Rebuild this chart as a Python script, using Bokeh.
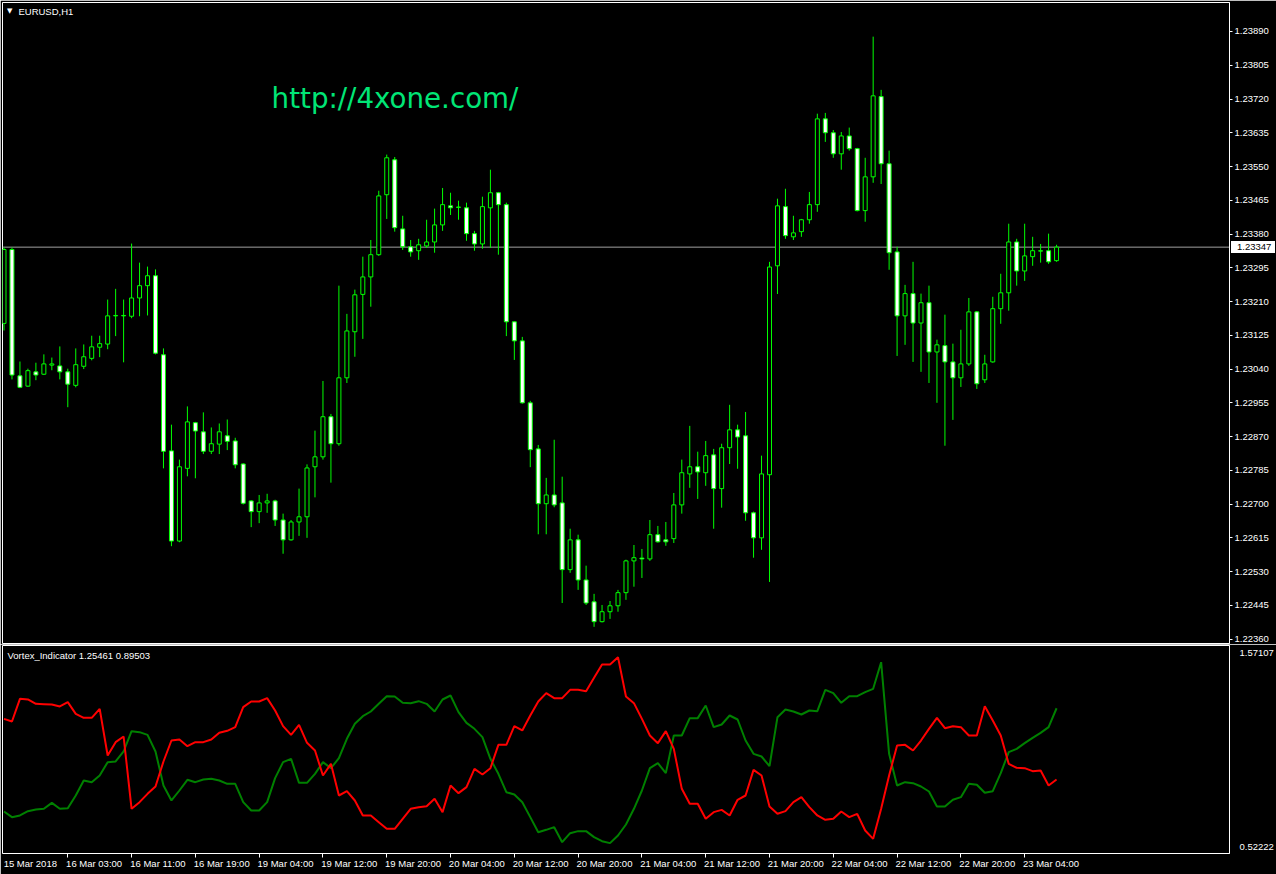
from bokeh.plotting import figure
from bokeh.models import (Range1d, FixedTicker, Span, Label, PrintfTickFormatter,
                          CustomJSTickFormatter, ColumnDataSource, Div)
from bokeh.layouts import column
from bokeh.embed import file_html
from bokeh.resources import INLINE

# ---------------- data (EURUSD H1) ----------------
opens = [1.23155, 1.23341, 1.23023, 1.22997, 1.23033, 1.23027, 1.23050, 1.23048, 1.23033, 1.22999,
         1.23047, 1.23067, 1.23095, 1.23103, 1.23174, 1.23175, 1.23173, 1.23219, 1.23250, 1.23275,
         1.23076, 1.22834, 1.22607, 1.22790, 1.22905, 1.22882, 1.22833, 1.22851, 1.22872, 1.22859,
         1.22801, 1.22708, 1.22681, 1.22703, 1.22708, 1.22660, 1.22610, 1.22655, 1.22668, 1.22794,
         1.22819, 1.22920, 1.22852, 1.23018, 1.23134, 1.23228, 1.23272, 1.23328, 1.23479, 1.23567,
         1.23393, 1.23348, 1.23338, 1.23350, 1.23360, 1.23403, 1.23451, 1.23447, 1.23446, 1.23381,
         1.23355, 1.23446, 1.23484, 1.23454, 1.23159, 1.23111, 1.22955, 1.22839, 1.22701, 1.22723,
         1.22703, 1.22535, 1.22610, 1.22509, 1.22454, 1.22404, 1.22429, 1.22444, 1.22477, 1.22557,
         1.22564, 1.22562, 1.22623, 1.22610, 1.22613, 1.22698, 1.22776, 1.22794, 1.22779, 1.22824,
         1.22739, 1.22842, 1.22887, 1.22872, 1.22678, 1.22615, 1.22774, 1.23300, 1.23449, 1.23373,
         1.23386, 1.23416, 1.23454, 1.23670, 1.23635, 1.23582, 1.23627, 1.23595, 1.23439, 1.23524,
         1.23726, 1.23557, 1.23335, 1.23174, 1.23230, 1.23156, 1.23207, 1.23083, 1.23099, 1.23058,
         1.23018, 1.23053, 1.23184, 1.23013, 1.23058, 1.23192, 1.23232, 1.23360, 1.23287, 1.23323,
         1.23337, 1.23338, 1.23313]
highs = [1.23346, 1.23346, 1.23059, 1.23041, 1.23056, 1.23077, 1.23069, 1.23097, 1.23041, 1.23092,
         1.23102, 1.23124, 1.23124, 1.23215, 1.23242, 1.23215, 1.23356, 1.23308, 1.23298, 1.23291,
         1.23092, 1.22900, 1.22812, 1.22946, 1.22907, 1.22931, 1.22893, 1.22903, 1.22913, 1.22867,
         1.22803, 1.22710, 1.22723, 1.22726, 1.22711, 1.22676, 1.22660, 1.22739, 1.22800, 1.22885,
         1.23010, 1.22927, 1.23250, 1.23179, 1.23240, 1.23323, 1.23365, 1.23489, 1.23580, 1.23574,
         1.23426, 1.23365, 1.23368, 1.23416, 1.23444, 1.23496, 1.23484, 1.23464, 1.23459, 1.23388,
         1.23474, 1.23542, 1.23486, 1.23459, 1.23160, 1.23121, 1.22960, 1.22849, 1.22766, 1.22862,
         1.22769, 1.22638, 1.22623, 1.22545, 1.22474, 1.22446, 1.22456, 1.22484, 1.22560, 1.22597,
         1.22587, 1.22660, 1.22645, 1.22655, 1.22728, 1.22812, 1.22897, 1.22832, 1.22859, 1.22839,
         1.22852, 1.22950, 1.22900, 1.22932, 1.22681, 1.22822, 1.23310, 1.23469, 1.23494, 1.23426,
         1.23418, 1.23486, 1.23683, 1.23685, 1.23642, 1.23637, 1.23648, 1.23597, 1.23572, 1.23877,
         1.23743, 1.23590, 1.23348, 1.23252, 1.23310, 1.23230, 1.23250, 1.23114, 1.23177, 1.23104,
         1.23139, 1.23219, 1.23186, 1.23076, 1.23222, 1.23280, 1.23406, 1.23368, 1.23406, 1.23373,
         1.23355, 1.23381, 1.23353]
lows = [1.23137, 1.23014, 1.22992, 1.22995, 1.23012, 1.23025, 1.23037, 1.23014, 1.22944, 1.22994,
        1.23040, 1.23062, 1.23070, 1.23090, 1.23123, 1.23057, 1.23168, 1.23173, 1.23175, 1.23077,
        1.22790, 1.22594, 1.22604, 1.22770, 1.22765, 1.22826, 1.22826, 1.22826, 1.22836, 1.22790,
        1.22699, 1.22642, 1.22652, 1.22678, 1.22645, 1.22575, 1.22608, 1.22620, 1.22615, 1.22717,
        1.22812, 1.22754, 1.22847, 1.23005, 1.23071, 1.23116, 1.23197, 1.23325, 1.23418, 1.23386,
        1.23340, 1.23323, 1.23315, 1.23345, 1.23333, 1.23388, 1.23428, 1.23416, 1.23363, 1.23338,
        1.23343, 1.23345, 1.23328, 1.23123, 1.23063, 1.22953, 1.22793, 1.22624, 1.22624, 1.22692,
        1.22451, 1.22527, 1.22484, 1.22446, 1.22391, 1.22402, 1.22411, 1.22429, 1.22459, 1.22492,
        1.22514, 1.22557, 1.22603, 1.22595, 1.22602, 1.22676, 1.22741, 1.22713, 1.22746, 1.22638,
        1.22691, 1.22801, 1.22789, 1.22658, 1.22565, 1.22585, 1.22504, 1.23229, 1.23368, 1.23365,
        1.23373, 1.23406, 1.23436, 1.23612, 1.23572, 1.23542, 1.23590, 1.23437, 1.23411, 1.23509,
        1.23506, 1.23290, 1.23073, 1.23101, 1.23058, 1.23033, 1.23005, 1.22955, 1.22847, 1.22912,
        1.22995, 1.23048, 1.22990, 1.23005, 1.23056, 1.23154, 1.23187, 1.23250, 1.23262, 1.23300,
        1.23308, 1.23305, 1.23310]
closes = [1.23341, 1.23025, 1.22994, 1.23036, 1.23025, 1.23053, 1.23053, 1.23033, 1.23002, 1.23051,
          1.23071, 1.23096, 1.23104, 1.23174, 1.23175, 1.23174, 1.23219, 1.23250, 1.23275, 1.23080,
          1.22833, 1.22607, 1.22794, 1.22907, 1.22884, 1.22833, 1.22852, 1.22882, 1.22858, 1.22799,
          1.22702, 1.22681, 1.22703, 1.22708, 1.22660, 1.22610, 1.22655, 1.22668, 1.22791, 1.22819,
          1.22920, 1.22852, 1.23018, 1.23136, 1.23227, 1.23272, 1.23328, 1.23476, 1.23572, 1.23396,
          1.23348, 1.23335, 1.23353, 1.23360, 1.23403, 1.23454, 1.23446, 1.23448, 1.23381, 1.23355,
          1.23449, 1.23484, 1.23454, 1.23159, 1.23111, 1.22955, 1.22837, 1.22701, 1.22723, 1.22698,
          1.22535, 1.22610, 1.22509, 1.22451, 1.22404, 1.22429, 1.22444, 1.22477, 1.22557, 1.22565,
          1.22562, 1.22623, 1.22605, 1.22605, 1.22698, 1.22779, 1.22794, 1.22781, 1.22822, 1.22739,
          1.22842, 1.22887, 1.22869, 1.22678, 1.22615, 1.22776, 1.23297, 1.23451, 1.23376, 1.23383,
          1.23416, 1.23454, 1.23670, 1.23635, 1.23582, 1.23627, 1.23595, 1.23439, 1.23524, 1.23728,
          1.23557, 1.23333, 1.23174, 1.23230, 1.23156, 1.23207, 1.23083, 1.23101, 1.23058, 1.23018,
          1.23053, 1.23184, 1.23003, 1.23053, 1.23192, 1.23232, 1.23360, 1.23287, 1.23325, 1.23338,
          1.23338, 1.23310, 1.23347]

# Vortex indicator: VI+ (green) and VI- (red)
vi_plus = [0.7340, 0.7055, 0.7139, 0.7357, 0.7441, 0.7475, 0.7777, 0.7475, 0.7508, 0.8147,
           0.8904, 0.8819, 0.9156, 0.9828, 0.9862, 1.0366, 1.1391, 1.1341, 1.1206, 1.0366,
           0.8651, 0.7895, 0.8399, 0.8937, 0.8819, 0.8954, 0.8988, 0.8904, 0.8735, 0.8735,
           0.7811, 0.7391, 0.7391, 0.7811, 0.9021, 0.9828, 0.9996, 0.8786, 0.8786, 0.9240,
           0.9828, 0.9525, 1.0030, 1.1005, 1.1761, 1.2147, 1.2383, 1.2769, 1.3156, 1.3139,
           1.2820, 1.2803, 1.2904, 1.2769, 1.2383, 1.2988, 1.3190, 1.2349, 1.1811, 1.1509,
           1.1089, 0.9996, 0.9240, 0.8315, 0.8198, 0.7811, 0.7055, 0.6298, 0.6416, 0.6550,
           0.5794, 0.6248, 0.6349, 0.6349, 0.6046, 0.5844, 0.5744, 0.6130, 0.6685, 0.7475,
           0.8399, 0.9525, 0.9778, 0.9273, 1.1173, 1.1173, 1.2047, 1.2047, 1.2685, 1.1593,
           1.1727, 1.2181, 1.1979, 1.0920, 1.0248, 1.0114, 0.9626, 1.2097, 1.2484, 1.2383,
           1.2231, 1.2433, 1.2399, 1.3475, 1.3307, 1.2820, 1.3156, 1.3156, 1.3358, 1.3526,
           1.4870, 1.0248, 0.8651, 0.8819, 0.8769, 0.8601, 0.8349, 0.7592, 0.7592, 0.7929,
           0.8063, 0.8735, 0.8685, 0.8282, 0.8366, 0.9273, 1.0332, 1.0500, 1.0786, 1.1055,
           1.1307, 1.1593, 1.25461]
vi_minus = [1.2013, 1.1878, 1.3021, 1.2988, 1.2769, 1.2753, 1.2736, 1.2635, 1.2853, 1.2265,
            1.2063, 1.2063, 1.2517, 1.0164, 1.0836, 1.1122, 0.7475, 0.7811, 0.8231, 0.8601,
            0.9862, 1.0920, 1.0971, 1.0635, 1.0836, 1.0836, 1.0971, 1.1307, 1.1408, 1.1593,
            1.2601, 1.2887, 1.2887, 1.3055, 1.2433, 1.1643, 1.1206, 1.1710, 1.0803, 1.0416,
            0.9156, 0.9744, 0.8147, 0.8366, 0.7895, 0.7139, 0.7139, 0.6803, 0.6466, 0.6466,
            0.6971, 0.7475, 0.7559, 0.7609, 0.7979, 0.7307, 0.8651, 0.8265, 0.8567, 0.9492,
            0.9206, 0.9525, 1.0702, 1.0702, 1.1643, 1.1425, 1.2181, 1.2887, 1.3307, 1.3055,
            1.3055, 1.3475, 1.3475, 1.3408, 1.4080, 1.4753, 1.4753, 1.5122, 1.3139, 1.2803,
            1.2013, 1.1173, 1.0786, 1.1391, 1.0500, 0.8483, 0.7727, 0.7727, 0.6971, 0.7307,
            0.7424, 0.7139, 0.7929, 0.8147, 0.9441, 0.9156, 0.7592, 0.7223, 0.7357, 0.7811,
            0.8063, 0.7559, 0.7139, 0.6920, 0.6971, 0.7340, 0.7055, 0.7223, 0.6382, 0.5962,
            0.7475, 0.9156, 1.0668, 1.0702, 1.0416, 1.0920, 1.1509, 1.2063, 1.1542, 1.1643,
            1.1593, 1.1173, 1.1173, 1.2652, 1.1929, 1.1173, 0.9744, 0.9542, 0.9525, 0.9374,
            0.9408, 0.8651, 0.89503]

price_ticks = [1.22360, 1.22445, 1.22530, 1.22615, 1.22700, 1.22785, 1.22870, 1.22955, 1.23040,
               1.23125, 1.23210, 1.23295, 1.23380, 1.23465, 1.23550, 1.23635, 1.23720, 1.23805,
               1.23890]
time_ticks = [0, 8, 16, 24, 32, 40, 48, 56, 64, 72, 80, 88, 96, 104, 112, 120, 128]
time_labels = ["15 Mar 2018", "16 Mar 03:00", "16 Mar 11:00", "16 Mar 19:00", "19 Mar 04:00",
               "19 Mar 12:00", "19 Mar 20:00", "20 Mar 04:00", "20 Mar 12:00", "20 Mar 20:00",
               "21 Mar 04:00", "21 Mar 12:00", "21 Mar 20:00", "22 Mar 04:00", "22 Mar 12:00",
               "22 Mar 20:00", "23 Mar 04:00"]
last_price = 1.23347
ind_max, ind_min = 1.57107, 0.52222
symbol_title = "EURUSD,H1"
ind_title = "Vortex_Indicator 1.25461 0.89503"
watermark = "http://4xone.com/"

# ---------------- layout constants (pixels) ----------------
W = 1276
FL, FR = 2, 1233          # frame left / right
BAR_PX, BAR0 = 8.0, 3.5   # bar spacing, centre of first bar
H1, H2 = 644, 230
P1_TOP, P1_BOT = 2, 643
P2_TOP, P2_BOT = 645, 853
PRICE_TOP, PRICE_BOT = 1.23963, 1.22349
LABEL_SHIFT = 3.3         # time labels start at their tick (in bars, half a label)

FONT = "Liberation Sans"
FS = "9.5px"
GREEN = "#00FF00"

def px_x(px):
    return (px - BAR0) / BAR_PX

def px_price(py):
    return PRICE_TOP - (py - P1_TOP) * (PRICE_TOP - PRICE_BOT) / (P1_BOT - P1_TOP)

def price_px(p):
    return P1_TOP + (PRICE_TOP - p) * (P1_BOT - P1_TOP) / (PRICE_TOP - PRICE_BOT)

def px_ind(py):
    return ind_max - (py - P2_TOP) * (ind_max - ind_min) / (P2_BOT - P2_TOP)

idx = list(range(len(opens)))
xr = Range1d(px_x(FL), px_x(FR))

# ---------------- main price chart ----------------
p1 = figure(width=W, height=H1, x_range=xr, y_range=Range1d(PRICE_BOT, PRICE_TOP),
            x_axis_location=None, y_axis_location="right",
            output_backend="svg", toolbar_location=None,
            background_fill_color="black", border_fill_color="black",
            min_border_left=FL, min_border_right=W - FR,
            min_border_top=P1_TOP, min_border_bottom=H1 - P1_BOT)
p1.grid.visible = False
p1.outline_line_color = "white"
p1.outline_line_width = 1

tops = [max(o, c) for o, c in zip(opens, closes)]
bots = [min(o, c) for o, c in zip(opens, closes)]
fills = ["white" if c < o else "black" for o, c in zip(opens, closes)]
src = ColumnDataSource(dict(x=idx, o=opens, h=highs, l=lows, c=closes,
                            top=tops, bot=bots, fill=fills))

p1.add_layout(Span(location=last_price, dimension="width", line_color="#A0A0A0",
                   line_width=1, level="underlay"))
p1.segment(x0="x", y0="l", x1="x", y1="h", source=src, line_color=GREEN, line_width=1)
p1.vbar(x="x", width=0.5, top="top", bottom="bot", source=src,
        fill_color="fill", line_color=GREEN, line_width=1)

ya = p1.yaxis[0]
ya.ticker = FixedTicker(ticks=price_ticks)
ya.formatter = PrintfTickFormatter(format="%.5f")
ya.axis_line_color = "white"
ya.major_tick_line_color = "white"
ya.major_tick_out = 3
ya.major_tick_in = 0
ya.minor_tick_line_color = None
ya.major_label_text_color = "white"
ya.major_label_text_font = FONT
ya.major_label_text_font_size = FS
ya.major_label_standoff = 2

p1.add_layout(Label(x=px_x(6.5), y=px_price(10.5), text="\u25BC", text_color="white",
                    text_font="DejaVu Sans", text_font_size="7px", text_baseline="middle"))
p1.add_layout(Label(x=px_x(18), y=px_price(10.5), text=symbol_title, text_color="white",
                    text_font=FONT, text_font_size=FS, text_baseline="middle"))
p1.add_layout(Label(x=px_x(272), y=px_price(98), text=watermark, text_color="#00E676",
                    text_font="DejaVu Sans", text_font_size="27.7px", text_baseline="middle"))

# ---------------- Vortex indicator ----------------
p2 = figure(width=W, height=H2, x_range=xr, y_range=Range1d(ind_min, ind_max),
            x_axis_location="below", y_axis_location="right",
            output_backend="svg", toolbar_location=None,
            background_fill_color="black", border_fill_color="black",
            min_border_left=FL, min_border_right=W - FR,
            min_border_top=P2_TOP - H1, min_border_bottom=H1 + H2 - P2_BOT)
p2.grid.visible = False
p2.outline_line_color = "white"
p2.outline_line_width = 1

p2.line(idx, vi_plus, line_color="#008000", line_width=2)
p2.line(idx, vi_minus, line_color="#FF0000", line_width=2)

ya2 = p2.yaxis[0]
ya2.ticker = FixedTicker(ticks=[px_ind(P2_BOT - 6.3), px_ind(P2_TOP + 7.7)])
ya2.formatter = CustomJSTickFormatter(args=dict(labels=["%.5f" % ind_min, "%.5f" % ind_max]),
                                      code="return labels[index];")
ya2.axis_line_color = "white"
ya2.major_tick_line_color = None
ya2.minor_tick_line_color = None
ya2.major_label_text_color = "white"
ya2.major_label_text_font = FONT
ya2.major_label_text_font_size = FS
ya2.major_label_standoff = 4

# time scale: labels start at the bar they name; small tick marks at those bars
xa = p2.xaxis[0]
xa.ticker = FixedTicker(ticks=[t + LABEL_SHIFT for t in time_ticks], minor_ticks=time_ticks[1:])
xa.formatter = CustomJSTickFormatter(args=dict(labels=time_labels), code="return labels[index];")
xa.axis_line_color = None
xa.major_tick_line_color = None
xa.major_tick_out = 4
xa.major_tick_in = 0
xa.minor_tick_line_color = "white"
xa.minor_tick_out = 4
xa.minor_tick_in = 0
xa.major_label_text_color = "white"
xa.major_label_text_font = FONT
xa.major_label_text_font_size = FS
xa.major_label_standoff = 0

p2.add_layout(Label(x=px_x(7), y=px_ind(655), text=ind_title, text_color="white",
                    text_font=FONT, text_font_size=FS, text_baseline="middle"))

layout = column(p1, p2, spacing=0,
                styles={"position": "absolute", "left": "0px", "top": "0px"})

# current bid price box sitting on the price scale
bid_y = price_px(last_price)
bid_box = Div(text="%.5f" % last_price, width=44, height=12, margin=0,
              styles={"position": "absolute", "left": "1231px", "top": "%dpx" % round(bid_y - 6),
                      "background-color": "white", "color": "black",
                      "font-family": "'Liberation Sans'", "font-size": FS,
                      "line-height": "12px", "padding-left": "6px", "box-sizing": "border-box",
                      "z-index": "10", "overflow": "hidden"})

open("out.html", "w").write(file_html([layout, bid_box], INLINE))
